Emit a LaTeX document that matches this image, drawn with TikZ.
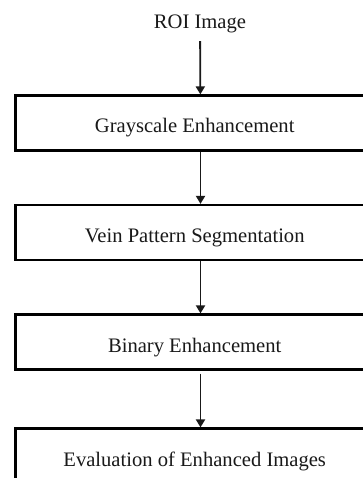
\documentclass[tikz,border=0pt]{standalone}
\usepackage{fontspec}
\setmainfont{Liberation Serif}
\usetikzlibrary{arrows.meta}
\newcommand{\shiftedlabel}[1]{\hspace*{-5.8pt}#1\hspace*{5.8pt}}
\begin{document}
\begin{tikzpicture}[x=1pt,y=-1pt,
  txt/.style={font=\fontsize{20.6}{24}\selectfont,text=black!90,text height=22pt,text depth=2pt},
  stagebox/.style={txt,draw=black,line width=2.2pt,minimum width=370pt,minimum height=55pt,inner sep=0pt},
  arr/.style={draw=black!90,line width=1.8pt,-{Triangle[length=8pt,width=9pt]}}]
\clip (0,0) rectangle (363,478);
\fill[white] (0,0) rectangle (363,478);
\node[txt,inner sep=0pt] (roi) at (200,18.5) {ROI Image};
\node[stagebox] (g) at (200.5,123) {\shiftedlabel{Grayscale Enhancement}};
\node[stagebox] (v) at (200.5,232.5) {\shiftedlabel{Vein Pattern Segmentation}};
\node[stagebox] (b) at (200.5,342) {\shiftedlabel{Binary Enhancement}};
\node[stagebox] (e) at (200.5,456) {\shiftedlabel{Evaluation of Enhanced Images}};
\draw[arr,shorten <=10.5pt] (roi) -- (g);
\draw[arr] (g) -- (v);
\draw[arr] (v) -- (b);
\draw[arr,shorten <=3pt] (b) -- (e);
\end{tikzpicture}
\end{document}
